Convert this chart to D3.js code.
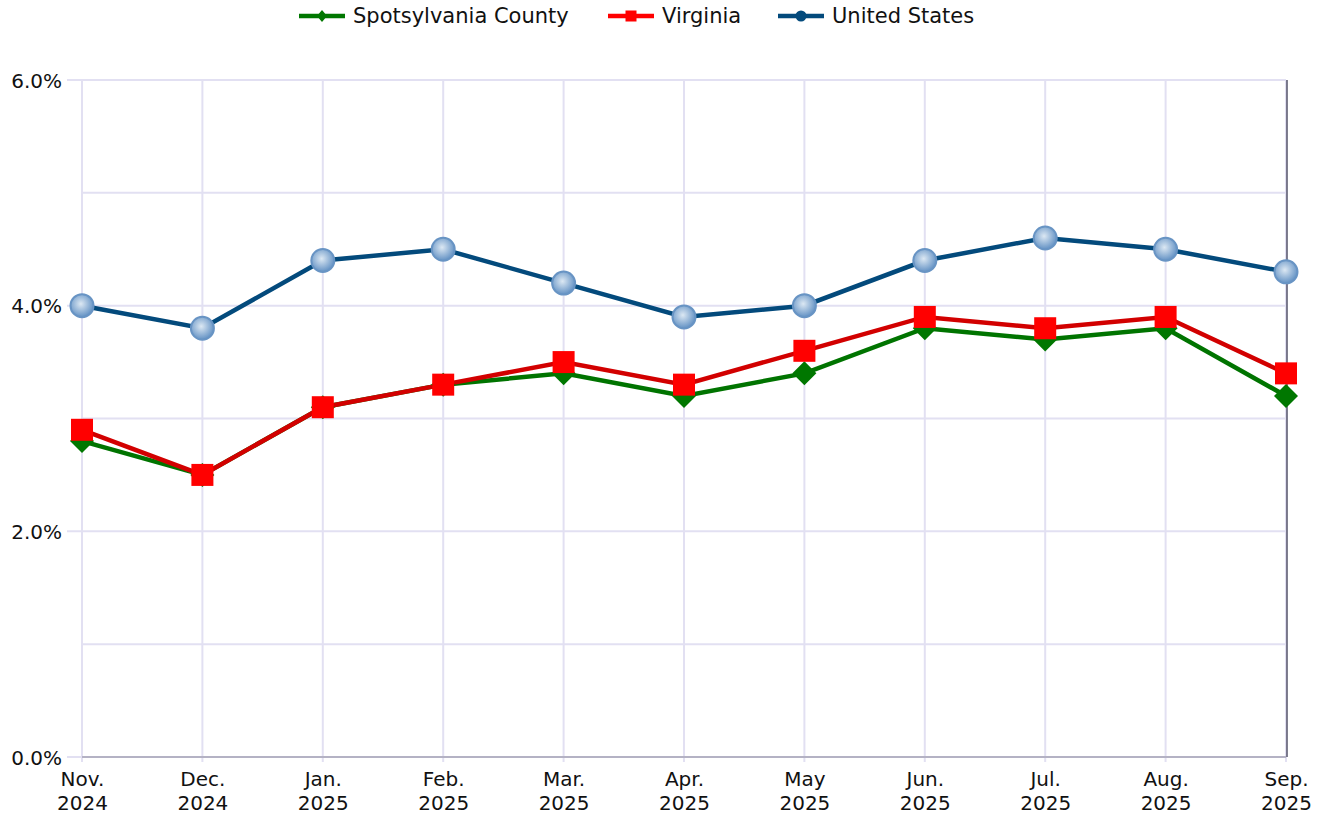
<!DOCTYPE html>
<meta charset="utf-8">
<style>
  body { margin: 0; background: #fff; font-family: 'DejaVu Sans', Verdana, sans-serif; }
</style>
<script src="https://d3js.org/d3.v7.min.js"></script>
<body>
<div id="chart"></div>
<script>
  // 数据
  let months = ["Nov.|2024", "Dec.|2024", "Jan.|2025", "Feb.|2025", "Mar.|2025", "Apr.|2025",
                "May|2025", "Jun.|2025", "Jul.|2025", "Aug.|2025", "Sep.|2025"];
  let spotsylvania = [2.8, 2.5, 3.1, 3.3, 3.4, 3.2, 3.4, 3.8, 3.7, 3.8, 3.2];
  let virginia = [2.9, 2.5, 3.1, 3.3, 3.5, 3.3, 3.6, 3.9, 3.8, 3.9, 3.4];
  let unitedStates = [4.0, 3.8, 4.4, 4.5, 4.2, 3.9, 4.0, 4.4, 4.6, 4.5, 4.3];
  let yTicks = [0, 2, 4, 6];
  let yGrid = [0, 1, 2, 3, 4, 5, 6];

  let width = 1323, height = 818;
  let margin = {top: 80, right: 37, bottom: 61, left: 82};
  let font = "'DejaVu Sans', Verdana, sans-serif";

  let svg = d3.select("#chart").append("svg")
    .attr("width", width).attr("height", height);

  let defs = svg.append("defs");
  let grad = defs.append("radialGradient").attr("id", "ball")
    .attr("cx", "45%").attr("cy", "42%").attr("r", "60%");
  grad.append("stop").attr("offset", "0%").attr("stop-color", "#dce8f3");
  grad.append("stop").attr("offset", "100%").attr("stop-color", "#5e8ec2");

  let x = d3.scalePoint().domain(months)
    .range([margin.left, width - margin.right]);
  let y = d3.scaleLinear().domain([0, 6])
    .range([height - margin.bottom, margin.top]);

  let gridColor = "#e2e0f2";

  // 横向网格
  svg.append("g").selectAll("line").data(yGrid).join("line")
    .attr("x1", d => yTicks.includes(d) ? margin.left - 15 : margin.left)
    .attr("x2", width - margin.right)
    .attr("y1", d => y(d)).attr("y2", d => y(d))
    .attr("stroke", gridColor).attr("stroke-width", 2);

  // 纵向网格
  svg.append("g").selectAll("line").data(months).join("line")
    .attr("x1", d => x(d)).attr("x2", d => x(d))
    .attr("y1", margin.top).attr("y2", height - margin.bottom + 5)
    .attr("stroke", gridColor).attr("stroke-width", 2);

  // 底部轴线与右边框
  svg.append("line")
    .attr("x1", margin.left).attr("x2", width - margin.right)
    .attr("y1", y(0)).attr("y2", y(0))
    .attr("stroke", "#b4b2c4").attr("stroke-width", 2);
  svg.append("line")
    .attr("x1", width - margin.right + 1).attr("x2", width - margin.right + 1)
    .attr("y1", margin.top).attr("y2", y(0))
    .attr("stroke", "#55556a").attr("stroke-width", 1.5);

  // y轴
  let yAxis = svg.append("g")
    .attr("transform", `translate(${margin.left - 19},0)`)
    .call(d3.axisLeft(y).tickValues(yTicks).tickSize(0).tickFormat(d => d.toFixed(1) + "%"));
  yAxis.select(".domain").remove();
  yAxis.selectAll("text").attr("dy", "0.35em").attr("x", -1)
    .style("font-family", font).style("font-size", "20px").attr("fill", "#111");

  // x轴
  let xAxis = svg.append("g")
    .attr("transform", `translate(0,${y(0)})`)
    .call(d3.axisBottom(x).tickSize(0).tickFormat(""));
  xAxis.select(".domain").remove();
  xAxis.selectAll(".tick").each(function (d) {
    let parts = d.split("|");
    let t = d3.select(this).append("text")
      .attr("text-anchor", "middle")
      .style("font-family", font).style("font-size", "20px").attr("fill", "#111");
    t.append("tspan").attr("x", 0).attr("y", 29).text(parts[0]);
    t.append("tspan").attr("x", 0).attr("y", 53).text(parts[1]);
  });

  let line = d3.line().x((d, i) => x(months[i])).y(d => y(d));

  let series = [
    {name: "Spotsylvania County", values: spotsylvania, color: "#007400", marker: "diamond"},
    {name: "Virginia", values: virginia, color: "#d20000", marker: "square"},
    {name: "United States", values: unitedStates, color: "#034a7c", marker: "circle"}
  ];

  function drawMarker(g, type, cx, cy) {
    if (type === "diamond") {
      g.append("path")
        .attr("d", `M${cx},${cy - 12} L${cx + 12},${cy} L${cx},${cy + 12} L${cx - 12},${cy} Z`)
        .attr("fill", "#007700");
    } else if (type === "square") {
      g.append("rect")
        .attr("x", cx - 11).attr("y", cy - 11)
        .attr("width", 22).attr("height", 22)
        .attr("fill", "#ff0000");
    } else {
      g.append("circle").attr("cx", cx).attr("cy", cy).attr("r", 11.5)
        .attr("fill", "url(#ball)")
        .attr("stroke", "#6894c4").attr("stroke-width", 2);
    }
  }

  series.forEach(function (s) {
    svg.append("path").datum(s.values)
      .attr("d", line).attr("fill", "none")
      .attr("stroke", s.color).attr("stroke-width", 4.5);
  });
  series.forEach(function (s) {
    let g = svg.append("g");
    s.values.forEach((v, i) => drawMarker(g, s.marker, x(months[i]), y(v)));
  });

  // 图例
  let legendItems = [
    {x: 299, s: series[0], lc: "#007700", mc: "#007700"},
    {x: 608, s: series[1], lc: "#ff0000", mc: "#ff0000"},
    {x: 778, s: series[2], lc: "#034a7c", mc: "#034a7c"}
  ];
  let legend = svg.append("g");
  legendItems.forEach(function (it) {
    let g = legend.append("g");
    g.append("line").attr("x1", it.x).attr("x2", it.x + 46)
      .attr("y1", 16).attr("y2", 16)
      .attr("stroke", it.lc).attr("stroke-width", 4.5);
    let cx = it.x + 23;
    if (it.s.marker === "diamond") {
      g.append("path").attr("d", `M${cx},10 L${cx + 5},16 L${cx},22 L${cx - 5},16 Z`).attr("fill", it.mc);
    } else if (it.s.marker === "square") {
      g.append("rect").attr("x", cx - 5.5).attr("y", 10.5).attr("width", 11).attr("height", 11).attr("fill", it.mc);
    } else {
      g.append("circle").attr("cx", cx).attr("cy", 16).attr("r", 5.5).attr("fill", it.mc);
    }
    g.append("text").attr("x", it.x + 54).attr("y", 16).attr("dy", "0.35em")
      .style("font-family", font).style("font-size", "21px").attr("fill", "#111").text(it.s.name);
  });
</script>
</body>
